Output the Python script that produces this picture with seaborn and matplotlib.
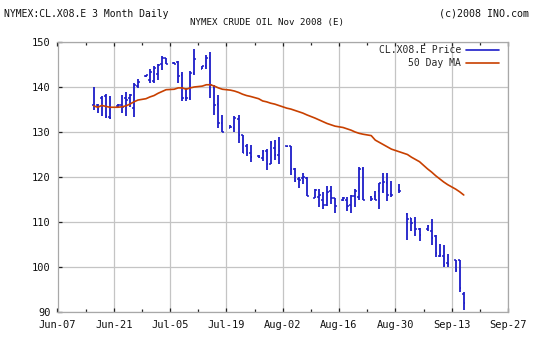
import numpy as np
import pandas as pd
import matplotlib
matplotlib.use("Agg")
import matplotlib.pyplot as plt
import matplotlib.dates as mdates
from matplotlib.lines import Line2D
import seaborn as sns

# ---------------- data ----------------
dates = [
    "2008-06-16", "2008-06-17", "2008-06-18", "2008-06-19", "2008-06-20",
    "2008-06-22", "2008-06-23", "2008-06-24", "2008-06-25", "2008-06-26", "2008-06-27",
    "2008-06-29", "2008-06-30", "2008-07-01", "2008-07-02", "2008-07-03", "2008-07-04",
    "2008-07-06", "2008-07-07", "2008-07-08", "2008-07-09", "2008-07-10", "2008-07-11",
    "2008-07-13", "2008-07-14", "2008-07-15", "2008-07-16", "2008-07-17", "2008-07-18",
    "2008-07-20", "2008-07-21", "2008-07-22", "2008-07-23", "2008-07-24", "2008-07-25",
    "2008-07-27", "2008-07-28", "2008-07-29", "2008-07-30", "2008-07-31", "2008-08-01",
    "2008-08-03", "2008-08-04", "2008-08-05", "2008-08-06", "2008-08-07", "2008-08-08",
    "2008-08-10", "2008-08-11", "2008-08-12", "2008-08-13", "2008-08-14", "2008-08-15",
    "2008-08-17", "2008-08-18", "2008-08-19", "2008-08-20", "2008-08-21", "2008-08-22",
    "2008-08-24", "2008-08-25", "2008-08-26", "2008-08-27", "2008-08-28", "2008-08-29",
    "2008-08-31", "2008-09-02", "2008-09-03", "2008-09-04", "2008-09-05",
    "2008-09-07", "2008-09-08", "2008-09-09", "2008-09-10", "2008-09-11", "2008-09-12",
    "2008-09-14", "2008-09-15", "2008-09-16",
]

opens = [
    136.0, 136.1, 137.5, 137.9, 133.3,
    135.8, 136.1, 137.5, 137.5, 135.3, 140.3,
    142.5, 141.5, 141.3, 142.9, 145.2, 146.4,
    145.3, 145.6, 142.7, 137.5, 137.5, 143.1,
    144.0, 144.6, 146.4, 140.0, 136.2, 132.0,
    131.0, 131.0, 132.9, 129.3, 127.0, 125.3,
    124.7, 124.2, 125.8, 122.9, 126.5, 124.9,
    126.8, 126.8, 121.8, 119.5, 119.7, 119.8,
    115.3, 115.5, 115.0, 113.8, 116.8, 115.3,
    114.9, 114.9, 113.8, 115.7, 115.5, 121.8,
    115.5, 115.7, 116.8, 117.0, 118.6, 116.3,
    117.2, 111.8, 110.9, 110.1, 108.4,
    108.4, 107.9, 107.0, 102.5, 102.5, 101.0,
    101.5, 101.5, 94.0,
]
highs = [
    140.1, 136.3, 137.9, 138.4, 137.9,
    136.2, 138.3, 138.9, 138.5, 141.0, 141.8,
    142.7, 144.0, 144.6, 145.2, 147.0, 146.4,
    145.5, 145.8, 143.3, 139.8, 143.5, 148.5,
    144.7, 147.2, 147.8, 140.5, 138.3, 133.8,
    131.5, 133.5, 133.8, 129.4, 127.3, 127.2,
    124.8, 126.1, 126.2, 128.1, 128.3, 129.0,
    127.0, 127.0, 122.0, 120.0, 120.9, 120.0,
    117.4, 117.3, 116.6, 117.9, 117.9, 115.3,
    115.5, 115.5, 116.1, 117.3, 122.2, 122.2,
    115.7, 116.8, 118.7, 121.0, 121.0, 119.2,
    118.5, 112.0, 110.9, 111.1, 108.7,
    109.4, 110.7, 107.2, 105.2, 105.0, 103.0,
    101.5, 101.5, 94.4,
]
lows = [
    134.8, 134.2, 133.5, 133.2, 132.9,
    135.6, 134.2, 133.6, 135.6, 133.3, 139.8,
    142.3, 140.9, 141.0, 141.6, 143.8, 145.2,
    145.1, 140.9, 136.8, 137.0, 137.2, 142.6,
    144.0, 144.0, 137.5, 133.8, 130.9, 130.0,
    131.0, 130.1, 127.5, 125.3, 124.6, 123.3,
    124.3, 123.5, 121.6, 122.9, 123.8, 122.9,
    126.6, 120.4, 119.0, 117.5, 118.5, 115.8,
    115.3, 113.3, 112.9, 113.6, 114.1, 112.0,
    114.6, 112.4, 112.1, 113.3, 115.0, 115.0,
    114.6, 115.0, 112.9, 116.4, 114.6, 115.6,
    116.4, 105.9, 107.9, 107.0, 105.7,
    107.9, 105.0, 102.2, 102.2, 100.0, 100.0,
    98.8, 94.4, 90.4,
]
closes = [
    135.8, 135.1, 135.7, 133.6, 133.2,
    136.0, 135.6, 137.2, 138.3, 140.5, 141.2,
    142.6, 143.4, 144.2, 145.0, 146.4, 145.2,
    145.2, 142.5, 137.5, 137.5, 143.2, 146.2,
    144.7, 146.4, 140.5, 136.1, 132.0, 130.0,
    131.2, 133.2, 129.4, 125.3, 125.3, 124.4,
    124.4, 125.7, 122.9, 127.5, 125.0, 125.8,
    127.0, 121.8, 119.2, 119.3, 120.0, 115.8,
    117.2, 116.1, 113.8, 116.6, 115.3, 113.5,
    115.3, 113.6, 115.7, 117.0, 121.8, 115.0,
    115.2, 115.0, 118.7, 118.8, 116.0, 116.1,
    116.8, 110.7, 109.8, 108.4, 107.2,
    109.1, 106.4, 103.1, 102.7, 100.5, 100.7,
    99.4, 95.3, 92.0,
]
ma50 = [
    135.8, 135.5, 135.9, 135.7, 135.5,
    135.5, 135.6, 135.8, 136.2, 136.7, 137.1,
    137.4, 137.8, 138.1, 138.6, 139.0, 139.4,
    139.5, 139.8, 139.8, 139.5, 139.8, 140.0,
    140.2, 140.5, 140.5, 140.2, 139.8, 139.5,
    139.3, 139.1, 138.8, 138.4, 138.1, 137.9,
    137.4, 136.9, 136.7, 136.4, 136.2, 135.9,
    135.3, 135.1, 134.8, 134.5, 134.2, 133.8,
    133.1, 132.7, 132.3, 131.9, 131.6, 131.3,
    131.0, 130.7, 130.4, 130.0, 129.7, 129.5,
    129.2, 128.2, 127.7, 127.2, 126.7, 126.2,
    125.6, 125.0, 124.4, 123.9, 123.4,
    121.8, 121.1, 120.3, 119.6, 118.9, 118.3,
    117.3, 116.7, 116.0,
]

yticks = [90, 100, 110, 120, 130, 140, 150]
x_start, x_end = "2008-06-07", "2008-09-27"
title_left = "NYMEX:CL.X08.E 3 Month Daily"
title_mid = "NYMEX CRUDE OIL Nov 2008 (E)"
title_right = "(c)2008 INO.com"
label_price = "CL.X08.E Price"
label_ma = "50 Day MA"

# ---------------- style ----------------
sns.set_theme(style="white")
plt.rcParams['font.family'] = ['DejaVu Sans Mono', 'DejaVu Sans']
BLUE = "#1c1cc8"
ORANGE = "#c84000"
GRID = "#c4c4c4"

df = pd.DataFrame({
    "date": pd.to_datetime(dates), "open": opens, "high": highs,
    "low": lows, "close": closes, "ma": ma50,
})

fig = plt.figure(figsize=(5.37, 3.39), dpi=100)
ax = fig.add_axes([57.5 / 537, 27 / 339, (508 - 57.5) / 537, 270 / 339])

# OHLC bars
tick = pd.Timedelta(hours=10)
ax.vlines(df["date"], df["low"], df["high"], color=BLUE, lw=1.3, zorder=3)
ax.hlines(df["open"], df["date"] - tick, df["date"], color=BLUE, lw=1.1, zorder=3)
ax.hlines(df["close"], df["date"], df["date"] + tick, color=BLUE, lw=1.1, zorder=3)

# moving average
sns.lineplot(data=df, x="date", y="ma", ax=ax, color=ORANGE, lw=1.2,
             legend=False, zorder=4)

# axes
ax.set_xlim(pd.Timestamp(x_start), pd.Timestamp(x_end))
ax.set_ylim(yticks[0], yticks[-1])
ax.set_yticks(yticks)
major = pd.date_range(x_start, x_end, freq="14D")
minor = pd.date_range(pd.Timestamp(x_start) + pd.Timedelta(days=7), x_end, freq="14D")
ax.set_xticks(major)
ax.set_xticks(minor, minor=True)
ax.xaxis.set_major_formatter(mdates.DateFormatter("%b-%d"))
ax.set_xlabel("")
ax.set_ylabel("")

ax.grid(True, which="major", color=GRID, lw=0.9, zorder=0)
ax.set_axisbelow(True)
for s in ax.spines.values():
    s.set_color("#a8a8a8")
    s.set_linewidth(0.9)

ax.tick_params(axis="both", which="major", direction="in", length=3.2, width=0.9,
               color="#202020", labelsize=7.5, labelcolor="#111111", pad=6,
               top=True, right=False, bottom=True, left=True)
ax.tick_params(axis="x", which="minor", direction="in", length=2.5, width=0.9,
               color="#202020", top=True, bottom=True)
ax.tick_params(axis="y", pad=5)

# legend (line after label)
handles = [Line2D([], [], color=BLUE, lw=1.2), Line2D([], [], color=ORANGE, lw=1.2)]
ax.legend(handles, [label_price, label_ma], loc="upper right",
          bbox_to_anchor=(499 / 537, (339 - 45) / 339), bbox_transform=fig.transFigure,
          markerfirst=False, frameon=False, fontsize=7, handlelength=3.4,
          handletextpad=0.5, labelspacing=0.35, borderaxespad=0, borderpad=0)

# header texts
fig.text(4 / 537, 1 - 14 / 339, title_left, ha="left", va="center", fontsize=7, color="#111111")
fig.text(267 / 537, 1 - 22 / 339, title_mid, ha="center", va="center", fontsize=6.6, color="#111111")
fig.text(529 / 537, 1 - 14 / 339, title_right, ha="right", va="center", fontsize=7.2, color="#111111")

fig.savefig("out.png", dpi=100, facecolor="white")
